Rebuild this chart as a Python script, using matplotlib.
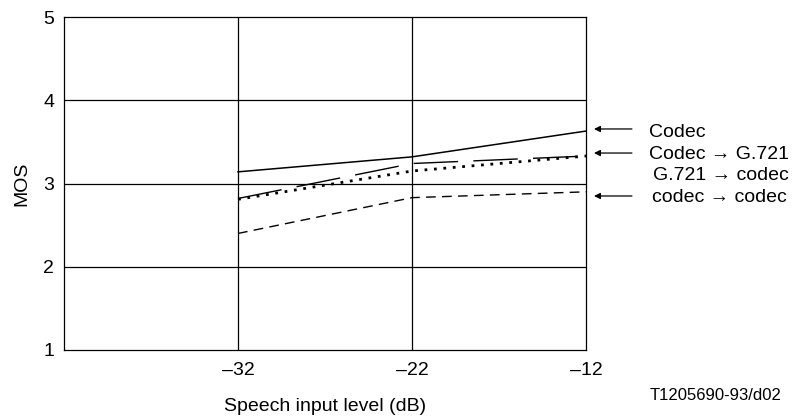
import matplotlib.pyplot as plt

plt.rcParams["font.family"] = ["Liberation Sans", "DejaVu Sans"]

levels = [-32, -22, -12]
codec = [3.14, 3.32, 3.63]
codec_g721 = [2.82, 3.24, 3.33]
g721_codec = [2.81, 3.15, 3.33]
codec_codec = [2.40, 2.83, 2.90]

x_ticks = [-32, -22, -12]
x_tick_labels = ["\u201332", "\u201322", "\u201312"]
y_ticks = [1, 2, 3, 4, 5]

series_labels = ["Codec", "Codec \u2192 G.721", "G.721 \u2192 codec", "codec \u2192 codec"]


def main():
    fig = plt.figure(figsize=(8, 4.19), dpi=100)
    ax = fig.add_axes([0.08, 0.1647, 0.6525, 0.7947])

    ax.set_xlim(-42, -12)
    ax.set_ylim(1, 5)

    # inner grid
    for xv in x_ticks[:-1]:
        ax.axvline(xv, color="black", lw=0.9, zorder=1)
    for yv in y_ticks[1:-1]:
        ax.axhline(yv, color="black", lw=0.9, zorder=1)

    ax.plot(levels, codec, color="black", lw=1.1, zorder=3)
    ax.plot(levels, codec_g721, color="black", lw=1.0,
            linestyle=(0, (32, 11)), zorder=3)
    ax.plot(levels, g721_codec, color="black", lw=2.0,
            linestyle=(0, (1, 2.4)), dash_capstyle="butt", zorder=3)
    ax.plot(levels, codec_codec, color="black", lw=1.0,
            linestyle=(0, (7, 4.5)), zorder=3)

    for sp in ax.spines.values():
        sp.set_linewidth(0.9)

    ax.set_xticks(x_ticks)
    ax.set_xticklabels(x_tick_labels)
    ax.set_yticks(y_ticks)
    ax.tick_params(length=0, labelsize=14)
    ax.tick_params(axis="x", pad=9)
    ax.tick_params(axis="y", pad=7)

    ax.set_xlabel("Speech input level (dB)", fontsize=14, labelpad=13)
    ax.set_ylabel("MOS", fontsize=14, labelpad=9)

    # labels with arrows on the right
    arrow_y = [3.655, 3.366, None, 2.85]
    text_y = [3.559, 3.294, 3.042, 2.778]
    text_x = [-8.38, -8.38, -8.15, -8.2]
    for lab, ay, tx, ty in zip(series_labels, arrow_y, text_x, text_y):
        if ay is not None:
            ax.annotate("", xy=(-11.54, ay), xytext=(-9.36, ay),
                        arrowprops=dict(arrowstyle="-|>", color="black",
                                        lw=0.9, mutation_scale=9,
                                        shrinkA=0, shrinkB=0),
                        annotation_clip=False)
        ax.text(tx, ty, lab, fontsize=14, va="baseline", ha="left",
                clip_on=False)

    fig.text(0.894, 0.055, "T1205690-93/d02", fontsize=12, ha="center",
             va="center")

    fig.savefig("out.png", dpi=100)


if __name__ == "__main__":
    main()
